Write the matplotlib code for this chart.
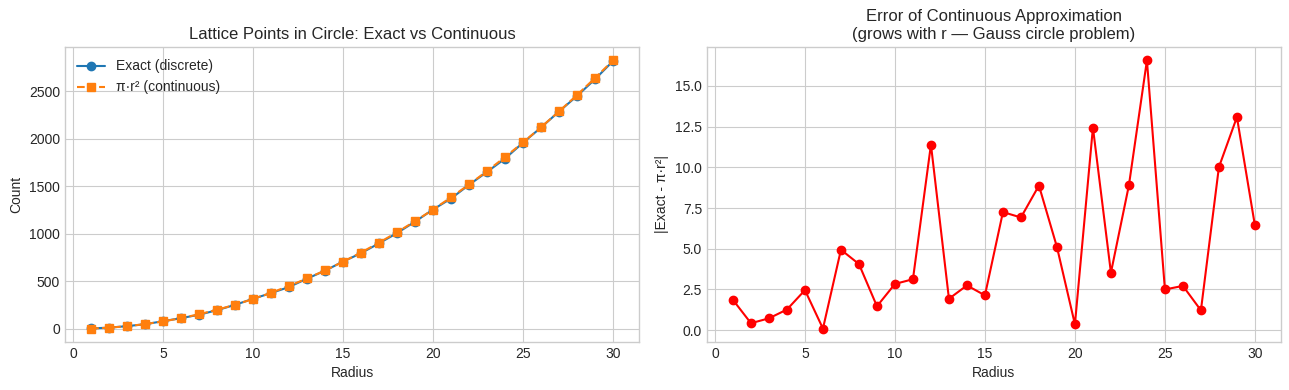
import matplotlib
matplotlib.use("Agg")
import matplotlib.pyplot as plt

plt.style.use("seaborn-v0_8-whitegrid")

RADIUS = list(range(1, 31))
EXACT = [5, 13, 29, 49, 81, 113, 149, 197, 253, 317,
         377, 441, 529, 613, 709, 797, 901, 1009, 1129, 1257,
         1373, 1517, 1653, 1793, 1961, 2121, 2289, 2453, 2629, 2821]
CONTINUOUS = [3.14, 12.57, 28.27, 50.27, 78.54, 113.10, 153.94, 201.06, 254.47, 314.16,
              380.13, 452.39, 530.93, 615.75, 706.86, 804.25, 907.92, 1017.88, 1134.11, 1256.64,
              1385.44, 1520.53, 1661.90, 1809.56, 1963.50, 2123.72, 2290.22, 2463.01, 2642.08, 2827.43]
ERROR = [1.86, 0.43, 0.73, 1.27, 2.46, 0.10, 4.94, 4.06, 1.47, 2.84,
         3.13, 11.39, 1.93, 2.75, 2.14, 7.25, 6.92, 8.88, 5.11, 0.36,
         12.44, 3.53, 8.90, 16.56, 2.50, 2.72, 1.22, 10.01, 13.08, 6.43]

fig, (ax1, ax2) = plt.subplots(1, 2, figsize=(12.89, 3.9), dpi=100)

ax1.plot(RADIUS, EXACT, "o-", color="tab:blue", label="Exact (discrete)")
ax1.plot(RADIUS, CONTINUOUS, "s--", color="tab:orange", label="π·r² (continuous)")
ax1.set_xlabel("Radius")
ax1.set_ylabel("Count")
ax1.set_title("Lattice Points in Circle: Exact vs Continuous")
ax1.legend(loc="upper left")

ax2.plot(RADIUS, ERROR, "o-", color="red")
ax2.set_xlabel("Radius")
ax2.set_ylabel("|Exact - π·r²|")
ax2.set_title("Error of Continuous Approximation\n(grows with r — Gauss circle problem)")

fig.subplots_adjust(left=0.0504, right=0.9938, top=0.8795, bottom=0.1231, wspace=0.118)
fig.savefig("out.png", dpi=100)
